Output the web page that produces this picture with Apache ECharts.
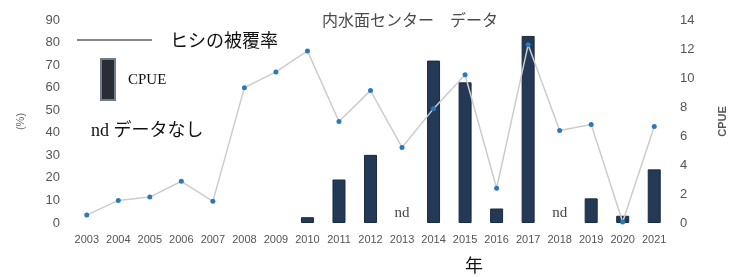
<!DOCTYPE html>
<html><head><meta charset="utf-8">
<script src="https://cdn.jsdelivr.net/npm/echarts@6/dist/echarts.min.js"></script>
<style>html,body{margin:0;padding:0;background:#fff}#c{width:736px;height:277px}</style>
</head><body><div id="c"></div>
<script>
var years = ['2003','2004','2005','2006','2007','2008','2009','2010','2011','2012','2013','2014','2015','2016','2017','2018','2019','2020','2021'];
var coverage = [3.5,10,11.5,18.5,9.6,60,67,76.3,45,58.7,33.5,50.7,65.7,15.4,79,41,43.7,0.4,42.8];
var cpue = [null,null,null,null,null,null,null,0.4,3.0,4.7,null,11.2,9.7,1.0,12.9,null,1.7,0.5,3.7];
var ndYears = ['2013','2018'];
var leftTicks = {min:0,max:90,interval:10};
var rightTicks = {min:0,max:14,interval:2};

var chart = echarts.init(document.getElementById('c'));
var axisLabel = {color:'#555',fontSize:13,fontFamily:'Liberation Sans, Arial'};
chart.setOption({
  animation:false,
  backgroundColor:'#fff',
  title:{text:'内水面センター　データ',left:317,top:7,textStyle:{color:'#4a4a4a',fontSize:16,fontWeight:'normal',fontFamily:'Noto Sans CJK JP'}},
  grid:{left:71,right:58,top:20,bottom:54},
  xAxis:{type:'category',data:years,axisLine:{show:false},axisTick:{show:false},
    axisLabel:{interval:0,color:'#555',fontSize:11,margin:11,fontFamily:'Liberation Sans, Arial'}},
  yAxis:[
    {type:'value',min:leftTicks.min,max:leftTicks.max,interval:leftTicks.interval,splitLine:{show:false},
     axisLine:{show:false},axisTick:{show:false},axisLabel:Object.assign({margin:11},axisLabel),
     name:'(%)',nameLocation:'middle',nameRotate:90,nameGap:45,nameTextStyle:{color:'#666',fontSize:11}},
    {type:'value',min:rightTicks.min,max:rightTicks.max,interval:rightTicks.interval,splitLine:{show:false},
     axisLine:{show:false},axisTick:{show:false},axisLabel:Object.assign({margin:10},axisLabel),
     name:'CPUE',nameLocation:'middle',nameRotate:90,nameGap:47,nameTextStyle:{color:'#555',fontSize:11,fontWeight:'bold',fontFamily:'Liberation Sans, Arial'}}
  ],
  series:[
    {type:'bar',yAxisIndex:1,data:cpue,barWidth:13,itemStyle:{color:'#233955',borderColor:'#1a2a40',borderWidth:1},z:2},
    {type:'line',yAxisIndex:0,data:coverage,lineStyle:{color:'#cccccc',width:1.5},symbol:'circle',symbolSize:5,
     itemStyle:{color:'#2b79b9',borderWidth:0},z:3},
    {type:'scatter',yAxisIndex:1,data:ndYears.map(function(y){return [y,0];}),symbolSize:0,
     label:{show:true,position:'top',distance:2,formatter:'nd',color:'#111',fontSize:15,fontFamily:'Liberation Serif'},z:4}
  ],
  graphic:[
    {type:'line',shape:{x1:77,y1:40,x2:152,y2:40},style:{stroke:'#111',lineWidth:1.2}},
    {type:'text',left:170,top:31,style:{text:'ヒシの被覆率',fill:'#111',font:'18px "Noto Sans CJK JP"'}},
    {type:'rect',shape:{x:101,y:59,width:14,height:41},style:{fill:'#2a2d33',stroke:'#6e7c8c',lineWidth:2}},
    {type:'text',left:128,top:73,style:{text:'CPUE',fill:'#111',font:'15px "Liberation Serif"'}},
    {type:'text',left:91,top:122,style:{text:'nd データなし',fill:'#111',font:'18px "Liberation Serif", "Noto Sans CJK JP"'}},
    {type:'text',left:465,top:256,style:{text:'年',fill:'#111',font:'18px "Noto Sans CJK JP"'}}
  ]
});
</script></body></html>
